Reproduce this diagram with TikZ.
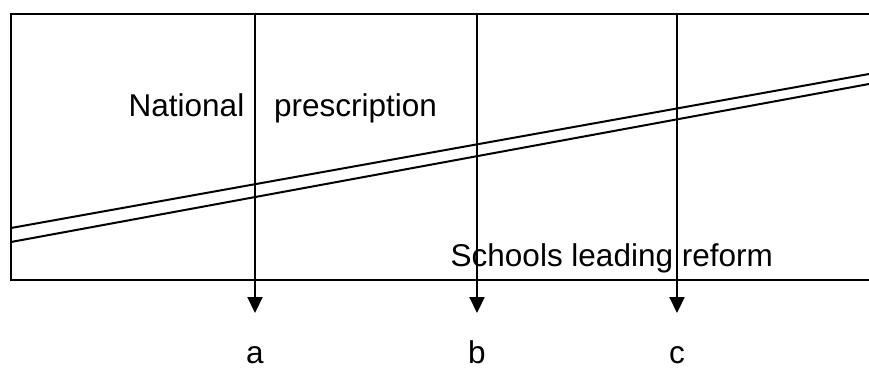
\documentclass[tikz,border=0pt]{standalone}
\usepackage{fontspec}
\setmainfont{Liberation Sans}
\usetikzlibrary{arrows.meta}
\begin{document}
\begin{tikzpicture}[x=1pt,y=1pt,
  frameline/.style={line width=2pt},
  bandline/.style={line width=2pt},
  downarrow/.style={line width=2.2pt,-{Triangle[length=16pt,width=15pt]}},
  lbl/.style={inner sep=0pt,anchor=base,font=\fontsize{31.5}{37}\selectfont},
  lblw/.style={inner sep=0pt,anchor=base west,font=\fontsize{31.5}{37}\selectfont}]
\useasboundingbox (0,0) rectangle (869,367);
\clip (0,0) rectangle (869,367);
% frame (open on the right)
\coordinate (frTR) at (870,352.5);
\coordinate (frTL) at (11,352.5);
\coordinate (frBL) at (11,87);
\coordinate (frBR) at (870,87);
\draw[frameline] (frTR) -- (frTL) -- (frBL) -- (frBR);
% band
\coordinate (u1) at (11,139);
\coordinate (u2) at (869,293);
\coordinate (l1) at (11,125);
\coordinate (l2) at (869,283);
\draw[bandline] (u1) -- (u2);
\draw[bandline] (l1) -- (l2);
% texts
\node[lblw] (nat) at (128.5,250) {National};
\node[lblw] (pres) at (274,250) {prescription};
\node[lblw] (sch) at (450.5,101) {Schools leading reform};
% arrows
\coordinate (ta) at (255,353);
\coordinate (tb) at (477,353);
\coordinate (tc) at (677,353);
\coordinate (ea) at (255,54);
\coordinate (eb) at (477,54);
\coordinate (ec) at (677,54);
\draw[downarrow] (ta) -- (ea);
\draw[downarrow] (tb) -- (eb);
\draw[downarrow] (tc) -- (ec);
\node[lbl] (la) at (255,4) {a};
\node[lbl] (lb) at (477,4) {b};
\node[lbl] (lc) at (677,4) {c};
\end{tikzpicture}
\end{document}
